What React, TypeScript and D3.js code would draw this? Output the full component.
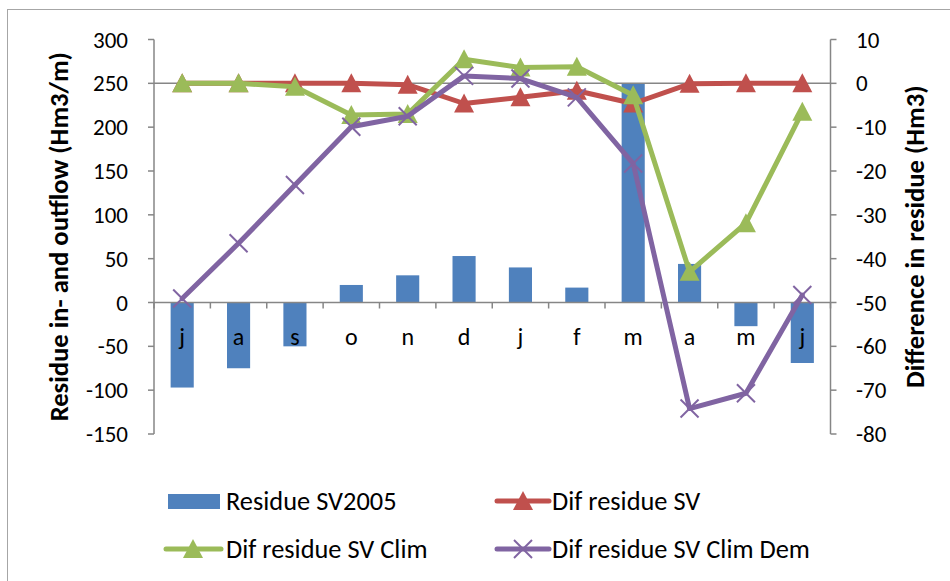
import React, { useLayoutEffect, useRef, useState } from "react";
import * as d3 from "d3";

// Monthly categories (hydrological year, July to June)
const months = ["j", "a", "s", "o", "n", "d", "j", "f", "m", "a", "m", "j"];

// Primary axis: residue of in- and outflow (Hm3/m)
const residueSV2005 = [-97, -75, -50, 20, 31, 53, 40, 17, 250, 44, -27, -69];

// Secondary axis: differences in residue (Hm3)
const difResidueSV = [0, 0, 0, 0, -0.3, -4.6, -3.2, -1.7, -4.6, -0.1, 0, 0];
const difResidueSVClim = [0, 0, -0.8, -7.2, -7, 5.5, 3.6, 3.8, -2.7, -43, -31.9, -6.5];
const difResidueSVClimDem = [-49.1, -36.5, -23.2, -9.9, -7.5, 1.7, 1.1, -3.2, -18.3, -74.2, -70.7, -48.3];

const leftTicks = [300, 250, 200, 150, 100, 50, 0, -50, -100, -150];
const rightTicks = [10, 0, -10, -20, -30, -40, -50, -60, -70, -80];

const W = 950;
const H = 581;
const FONT = "Carlito, Calibri, Lato, sans-serif";
const AXIS = "#868686";
const BLUE = "#4F81BD";
const RED = "#C0504D";
const GREEN = "#9BBB59";
const PURPLE = "#8064A2";

const plot = { left: 154, right: 830.5, top: 39.5, bottom: 434 };

// Text runs that the font sizes are fitted to (px)
const LEGEND_LONGEST = 258;
const LEFT_TITLE_LEN = 370;
const RIGHT_TITLE_LEN = 302;

const x = d3
  .scaleBand<number>()
  .domain(months.map((_, i) => i))
  .range([plot.left, plot.right])
  .padding(0);
const yL = d3.scaleLinear().domain([-150, 300]).range([plot.bottom, plot.top]);
const yR = d3.scaleLinear().domain([-80, 10]).range([plot.bottom, plot.top]);

const cx = (i: number) => (x(i) ?? 0) + x.bandwidth() / 2;
const barW = x.bandwidth() * 0.41;

const triPath = "M0,-10 L10,9 L-10,9 Z";

function Triangle({ x: px, y: py, color }: { x: number; y: number; color: string }) {
  return <path d={triPath} transform={`translate(${px},${py})`} fill={color} />;
}

function Cross({ x: px, y: py, color }: { x: number; y: number; color: string }) {
  const s = 9;
  return (
    <g transform={`translate(${px},${py})`} stroke={color} strokeWidth={2}>
      <line x1={-s} y1={-s} x2={s} y2={s} />
      <line x1={-s} y1={s} x2={s} y2={-s} />
    </g>
  );
}

export default function App() {
  const legendRef = useRef<SVGTextElement>(null);
  const leftTitleRef = useRef<SVGTextElement>(null);
  const rightTitleRef = useRef<SVGTextElement>(null);
  const [sizes, setSizes] = useState({ legend: 24.5, title: 23 });

  useLayoutEffect(() => {
    const lg = legendRef.current;
    const lt = leftTitleRef.current;
    const rt = rightTitleRef.current;
    if (!lg || !lt || !rt) return;
    const legend = (sizes.legend * LEGEND_LONGEST) / lg.getComputedTextLength();
    const title =
      (sizes.title * (LEFT_TITLE_LEN / lt.getComputedTextLength() + RIGHT_TITLE_LEN / rt.getComputedTextLength())) / 2;
    if (Math.abs(legend - sizes.legend) > 0.05 || Math.abs(title - sizes.title) > 0.05) {
      setSizes({ legend, title });
    }
  }, [sizes]);

  const line = d3
    .line<number>()
    .x((_, i) => cx(i))
    .y((d) => yR(d));

  const series = [
    { name: "Dif residue SV", data: difResidueSV, color: RED, marker: "tri" },
    { name: "Dif residue SV Clim", data: difResidueSVClim, color: GREEN, marker: "tri" },
    { name: "Dif residue SV Clim Dem", data: difResidueSVClimDem, color: PURPLE, marker: "x" },
  ];

  const y0 = yL(0);
  const yR0 = yR(0);
  const boundaries = d3.range(months.length + 1).map((i) => plot.left + i * x.step());

  return (
    <svg
      width={W}
      height={H}
      style={{ position: "absolute", left: 0, top: 0, background: "#fff" }}
      fontFamily={FONT}
    >
      <rect x={0} y={0} width={W} height={H} fill="#fff" />
      <rect x={7.5} y={9.5} width={1200} height={1200} fill="none" stroke="#A6A6A6" strokeWidth={1} />

      {/* bars */}
      {residueSV2005.map((v, i) => (
        <rect
          key={i}
          x={cx(i) - barW / 2}
          y={Math.min(yL(v), y0)}
          width={barW}
          height={Math.abs(yL(v) - y0)}
          fill={BLUE}
        />
      ))}

      {/* horizontal axis lines */}
      <line x1={plot.left} x2={plot.right} y1={y0} y2={y0} stroke={AXIS} strokeWidth={1.5} />
      <line x1={plot.left} x2={plot.right} y1={yR0} y2={yR0} stroke={AXIS} strokeWidth={1.5} />
      {boundaries.map((bx, i) => (
        <line key={i} x1={bx} x2={bx} y1={y0} y2={y0 + 6} stroke={AXIS} strokeWidth={1.5} />
      ))}

      {/* left axis */}
      <line x1={plot.left} x2={plot.left} y1={plot.top} y2={plot.bottom} stroke={AXIS} strokeWidth={1.5} />
      {leftTicks.map((t) => (
        <g key={t}>
          <line x1={plot.left - 6} x2={plot.left} y1={yL(t)} y2={yL(t)} stroke={AXIS} strokeWidth={1.5} />
          <text x={128} y={yL(t)} dy="0.35em" textAnchor="end" fontSize={23} fill="#000">
            {t}
          </text>
        </g>
      ))}

      {/* right axis */}
      <line x1={plot.right} x2={plot.right} y1={plot.top} y2={plot.bottom} stroke={AXIS} strokeWidth={1.5} />
      {rightTicks.map((t) => (
        <g key={t}>
          <line x1={plot.right} x2={plot.right + 6} y1={yR(t)} y2={yR(t)} stroke={AXIS} strokeWidth={1.5} />
          <text x={856} y={yR(t)} dy="0.35em" textAnchor="start" fontSize={23} fill="#000">
            {t}
          </text>
        </g>
      ))}

      {/* category labels */}
      {months.map((m, i) => (
        <text key={i} x={cx(i)} y={y0 + 42} textAnchor="middle" fontSize={24} fill="#000">
          {m}
        </text>
      ))}

      {/* axis titles */}
      <text
        ref={leftTitleRef}
        transform={`translate(59,${(plot.top + plot.bottom) / 2}) rotate(-90)`}
        dy="0.35em"
        textAnchor="middle"
        fontSize={sizes.title}
        fontWeight="bold"
        fill="#000"
      >
        Residue in- and outflow (Hm3/m)
      </text>
      <text
        ref={rightTitleRef}
        transform={`translate(915,${(plot.top + plot.bottom) / 2}) rotate(-90)`}
        dy="0.35em"
        textAnchor="middle"
        fontSize={sizes.title}
        fontWeight="bold"
        fill="#000"
      >
        Difference in residue (Hm3)
      </text>

      {/* line series */}
      {series.map((s) => (
        <g key={s.name}>
          <path d={line(s.data) ?? ""} fill="none" stroke={s.color} strokeWidth={5} strokeLinejoin="round" strokeLinecap="round" />
          {s.data.map((v, i) =>
            s.marker === "tri" ? (
              <Triangle key={i} x={cx(i)} y={yR(v)} color={s.color} />
            ) : (
              <Cross key={i} x={cx(i)} y={yR(v)} color={s.color} />
            )
          )}
        </g>
      ))}

      {/* legend */}
      <g fontSize={sizes.legend} fill="#000">
        <rect x={168} y={494} width={52} height={15} fill={BLUE} />
        <text x={226} y={501} dy="0.35em">Residue SV2005</text>

        <line x1={497} x2={549} y1={501} y2={501} stroke={RED} strokeWidth={5} strokeLinecap="round" />
        <Triangle x={523} y={501} color={RED} />
        <text x={552} y={501} dy="0.35em">Dif residue SV</text>

        <line x1={166} x2={221} y1={549} y2={549} stroke={GREEN} strokeWidth={5} strokeLinecap="round" />
        <Triangle x={193} y={549} color={GREEN} />
        <text x={226} y={549} dy="0.35em">Dif residue SV Clim</text>

        <line x1={497} x2={549} y1={549} y2={549} stroke={PURPLE} strokeWidth={5} strokeLinecap="round" />
        <Cross x={523} y={549} color={PURPLE} />
        <text ref={legendRef} x={552} y={549} dy="0.35em">Dif residue SV Clim Dem</text>
      </g>
    </svg>
  );
}
